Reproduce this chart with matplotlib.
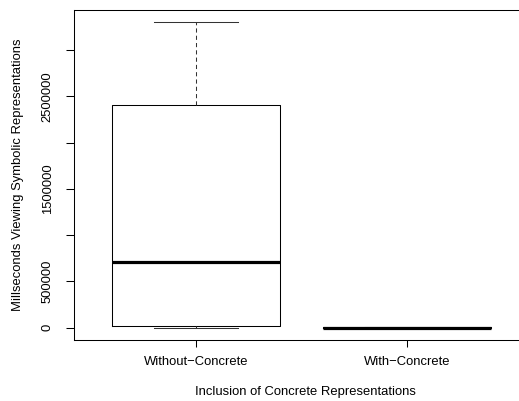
import matplotlib
matplotlib.use('Agg')
import matplotlib.pyplot as plt

plt.rcParams['font.family'] = ['Liberation Sans', 'DejaVu Sans']

# box statistics per group (milliseconds)
groups = ['Without\u2212Concrete', 'With\u2212Concrete']
whisker_low = [0, 0]
quartile_1 = [21000, 500]
medians = [709000, 1500]
quartile_3 = [2402000, 4000]
whisker_high = [3301000, 9000]

y_ticks = [0, 500000, 1000000, 1500000, 2000000, 2500000, 3000000]
y_tick_labels = ['0', '500000', '', '1500000', '', '2500000', '']

W, H = 519, 401
fig = plt.figure(figsize=(W / 100, H / 100), dpi=100)
# plot region runs a few pixels past the right edge of the figure
ax = fig.add_axes([73.6 / W, 1 - 340 / H, (529.4 - 73.6) / W, 330 / H])

stats = []
for name, lo, q1, med, q3, hi in zip(groups, whisker_low, quartile_1,
                                      medians, quartile_3, whisker_high):
    stats.append({'label': name, 'whislo': lo, 'q1': q1, 'med': med,
                  'q3': q3, 'whishi': hi, 'fliers': []})

lw = 0.75
ax.bxp(stats, positions=[1, 2], widths=0.8, showfliers=False,
       boxprops=dict(color='black', linewidth=lw),
       medianprops=dict(color='black', linewidth=2.3, solid_capstyle='butt'),
       whiskerprops=dict(color='#333333', linewidth=lw, dashes=(4, 3)),
       capprops=dict(color='#333333', linewidth=lw),
       capwidths=0.4)

lo = min(whisker_low)
hi = max(whisker_high)
pad = 0.04 * (hi - lo)
ax.set_ylim(lo - pad, hi + pad)
ax.set_xlim(0.42, 2.58)

ax.set_yticks(y_ticks)
ax.set_yticklabels(y_tick_labels, rotation=90, va='center')
ax.set_xticks([1, 2])
ax.set_xticklabels(groups)

ax.tick_params(axis='y', length=5.8, width=lw, pad=8.5, labelsize=9.4)
ax.tick_params(axis='x', length=5.0, width=lw, pad=6.5, labelsize=9.4)
for side in ['left', 'top', 'bottom', 'right']:
    ax.spines[side].set_linewidth(lw)

fig.text(305 / W, 1 - 392 / H, 'Inclusion of Concrete Representations',
         ha='center', va='center', fontsize=9.4)
fig.text(18 / W, 1 - 175 / H, 'Millseconds Viewing Symbolic Representations',
         ha='center', va='center', rotation=90, fontsize=9.4)

fig.savefig('out.png', dpi=100)
